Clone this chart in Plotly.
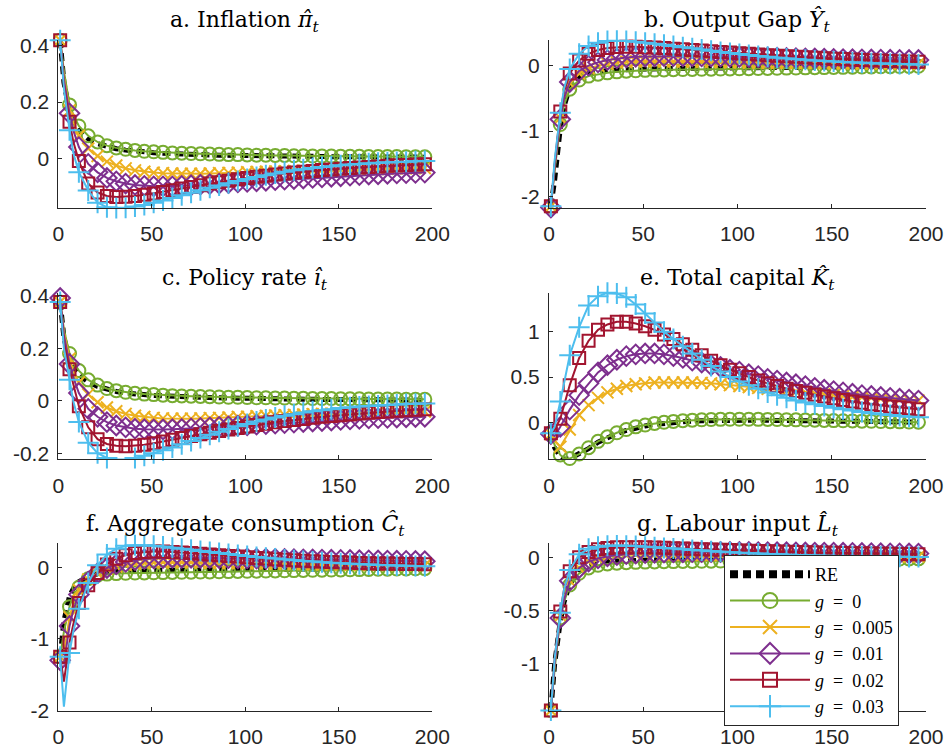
import plotly.graph_objects as go

# time index of the plotted points (markers every 5 periods)
T = [1, 3, 6, 8, 11, 16, 21, 26, 31, 36, 41, 46, 51, 56, 61, 66, 71, 76, 81, 86,
     91, 96, 101, 106, 111, 116, 121, 126, 131, 136, 141, 146, 151, 156, 161,
     166, 171, 176, 181, 186, 191, 196]

X_TICKS = [0, 50, 100, 150, 200]
X_TICKTEXT = ["0", "50", "100", "150", "200"]

# ---------- a. Inflation ----------
pi_RE = [0.42, 0.27, 0.165, 0.13,
         0.100, 0.070, 0.052, 0.042, 0.034, 0.029, 0.025, 0.022, 0.020, 0.018,
         0.016, 0.015, 0.014, 0.013, 0.012, 0.011, 0.011, 0.010, 0.010, 0.009,
         0.009, 0.008, 0.008, 0.007, 0.007, 0.007, 0.006, 0.006, 0.006, 0.005,
         0.005, 0.005, 0.005, 0.004, 0.004, 0.004, 0.004, 0.004]
pi_g0 = [0.42, 0.31, 0.19, 0.155,
         0.115, 0.080, 0.058, 0.045, 0.037, 0.032, 0.028, 0.025, 0.023, 0.021,
         0.019, 0.018, 0.017, 0.016, 0.015, 0.014, 0.013, 0.013, 0.012, 0.011,
         0.011, 0.010, 0.010, 0.009, 0.009, 0.008, 0.008, 0.008, 0.007, 0.007,
         0.007, 0.006, 0.006, 0.006, 0.006, 0.005, 0.005, 0.005]
pi_g005 = [0.42, 0.29, 0.17, 0.13,
           0.080, 0.035, 0.008, -0.012, -0.026, -0.036, -0.043, -0.048, -0.051, -0.053,
           -0.054, -0.055, -0.055, -0.055, -0.054, -0.053, -0.052, -0.051, -0.050, -0.049,
           -0.048, -0.047, -0.046, -0.045, -0.044, -0.043, -0.042, -0.041, -0.040, -0.039,
           -0.039, -0.038, -0.037, -0.037, -0.036, -0.036, -0.035, -0.035]
pi_g01 = [0.43, 0.28, 0.16, 0.10,
          0.040, -0.020, -0.050, -0.070, -0.082, -0.090, -0.095, -0.098, -0.100, -0.100,
          -0.100, -0.098, -0.096, -0.094, -0.092, -0.090, -0.088, -0.086, -0.084, -0.082,
          -0.080, -0.078, -0.076, -0.074, -0.072, -0.070, -0.068, -0.066, -0.064, -0.062,
          -0.060, -0.058, -0.057, -0.055, -0.054, -0.053, -0.052, -0.051]
pi_g02 = [0.42, 0.26, 0.13, 0.06,
          -0.010, -0.090, -0.122, -0.134, -0.138, -0.137, -0.134, -0.130, -0.125, -0.120,
          -0.114, -0.108, -0.102, -0.096, -0.090, -0.085, -0.080, -0.075, -0.070, -0.066,
          -0.062, -0.058, -0.054, -0.051, -0.048, -0.045, -0.042, -0.040, -0.037, -0.035,
          -0.033, -0.031, -0.029, -0.027, -0.025, -0.024, -0.022, -0.021]
pi_g03 = [0.42, 0.25, 0.10, 0.02,
          -0.050, -0.115, -0.158, -0.174, -0.177, -0.176, -0.172, -0.166, -0.158, -0.150,
          -0.141, -0.132, -0.123, -0.114, -0.105, -0.097, -0.089, -0.081, -0.074, -0.067,
          -0.060, -0.054, -0.048, -0.043, -0.039, -0.035, -0.031, -0.028, -0.025, -0.022,
          -0.020, -0.018, -0.016, -0.014, -0.013, -0.012, -0.011, -0.010]

# ---------- b. Output gap ----------
y_RE = [-2.15, -1.75, -0.95, -0.62,
        -0.33, -0.18, -0.12, -0.09, -0.075, -0.065, -0.058, -0.053, -0.050, -0.048,
        -0.046, -0.044, -0.042, -0.040, -0.038, -0.036, -0.034, -0.032, -0.030, -0.029,
        -0.028, -0.026, -0.025, -0.024, -0.022, -0.021, -0.020, -0.018, -0.017, -0.016,
        -0.014, -0.013, -0.012, -0.010, -0.009, -0.008, -0.007, -0.006]
y_g0 = [-2.15, -1.6, -0.9, -0.6,
        -0.36, -0.22, -0.16, -0.13, -0.11, -0.095, -0.085, -0.078, -0.072, -0.068,
        -0.065, -0.062, -0.060, -0.058, -0.056, -0.054, -0.052, -0.050, -0.048, -0.046,
        -0.044, -0.042, -0.040, -0.038, -0.036, -0.034, -0.032, -0.030, -0.028, -0.026,
        -0.024, -0.022, -0.020, -0.018, -0.016, -0.014, -0.012, -0.010]
y_g005 = [-2.15, -1.55, -0.8, -0.5,
          -0.27, -0.12, -0.04, 0.0, 0.03, 0.05, 0.06, 0.066, 0.068, 0.068,
          0.067, 0.065, 0.063, 0.061, 0.059, 0.057, 0.055, 0.053, 0.051, 0.049,
          0.047, 0.045, 0.044, 0.042, 0.041, 0.040, 0.038, 0.037, 0.036, 0.035,
          0.034, 0.033, 0.032, 0.031, 0.030, 0.030, 0.029, 0.029]
y_g01 = [-2.17, -1.55, -0.82, -0.5,
         -0.25, -0.08, 0.0, 0.05, 0.085, 0.11, 0.125, 0.135, 0.14, 0.143,
         0.145, 0.145, 0.144, 0.143, 0.141, 0.139, 0.137, 0.135, 0.133, 0.130,
         0.127, 0.124, 0.121, 0.118, 0.115, 0.112, 0.109, 0.106, 0.103, 0.100,
         0.098, 0.096, 0.094, 0.092, 0.090, 0.088, 0.087, 0.086]
y_g02 = [-2.15, -1.5, -0.7, -0.4,
         -0.12, 0.08, 0.18, 0.24, 0.27, 0.285, 0.29, 0.288, 0.283, 0.276,
         0.268, 0.26, 0.25, 0.24, 0.23, 0.22, 0.21, 0.20, 0.19, 0.18,
         0.17, 0.16, 0.152, 0.144, 0.136, 0.128, 0.121, 0.114, 0.107, 0.10,
         0.094, 0.088, 0.082, 0.077, 0.072, 0.067, 0.063, 0.059]
y_g03 = [-2.15, -1.45, -0.72, -0.35,
         -0.05, 0.18, 0.30, 0.35, 0.375, 0.38, 0.375, 0.365, 0.35, 0.335,
         0.318, 0.30, 0.282, 0.264, 0.246, 0.228, 0.21, 0.193, 0.177, 0.162,
         0.148, 0.135, 0.122, 0.11, 0.099, 0.089, 0.08, 0.071, 0.063, 0.056,
         0.049, 0.043, 0.038, 0.033, 0.029, 0.025, 0.022, 0.019]

# ---------- c. Policy rate ----------
i_RE = [0.375, 0.24, 0.15, 0.125,
        0.10, 0.072, 0.055, 0.044, 0.036, 0.030, 0.026, 0.023, 0.021, 0.019,
        0.017, 0.016, 0.015, 0.014, 0.013, 0.012, 0.011, 0.011, 0.010, 0.009,
        0.009, 0.008, 0.008, 0.007, 0.007, 0.006, 0.006, 0.006, 0.005, 0.005,
        0.005, 0.004, 0.004, 0.004, 0.004, 0.003, 0.003, 0.003]
i_g0 = [0.375, 0.27, 0.18, 0.148,
        0.115, 0.08, 0.06, 0.047, 0.039, 0.033, 0.029, 0.026, 0.024, 0.022,
        0.020, 0.019, 0.018, 0.017, 0.016, 0.015, 0.014, 0.014, 0.013, 0.012,
        0.012, 0.011, 0.011, 0.010, 0.010, 0.009, 0.009, 0.009, 0.008, 0.008,
        0.008, 0.007, 0.007, 0.007, 0.007, 0.006, 0.006, 0.006]
i_g005 = [0.375, 0.26, 0.16, 0.115,
          0.07, 0.025, -0.005, -0.025, -0.039, -0.049, -0.056, -0.061, -0.064, -0.066,
          -0.067, -0.067, -0.067, -0.066, -0.065, -0.064, -0.063, -0.061, -0.060, -0.058,
          -0.057, -0.055, -0.054, -0.053, -0.051, -0.050, -0.049, -0.048, -0.047, -0.046,
          -0.045, -0.044, -0.043, -0.042, -0.042, -0.041, -0.040, -0.040]
i_g01 = [0.39, 0.25, 0.14, 0.09,
         0.03, -0.03, -0.06, -0.08, -0.093, -0.10, -0.105, -0.107, -0.108, -0.108,
         -0.107, -0.106, -0.104, -0.102, -0.100, -0.098, -0.096, -0.094, -0.092, -0.090,
         -0.088, -0.086, -0.084, -0.082, -0.080, -0.078, -0.076, -0.074, -0.072, -0.070,
         -0.068, -0.066, -0.065, -0.064, -0.063, -0.062, -0.061, -0.060]
i_g02 = [0.375, 0.22, 0.12, 0.06,
         -0.02, -0.10, -0.145, -0.163, -0.17, -0.172, -0.17, -0.166, -0.16, -0.154,
         -0.147, -0.14, -0.133, -0.126, -0.12, -0.114, -0.108, -0.102, -0.097, -0.091,
         -0.086, -0.081, -0.076, -0.072, -0.068, -0.064, -0.060, -0.057, -0.054, -0.051,
         -0.048, -0.045, -0.042, -0.040, -0.037, -0.035, -0.033, -0.031]
i_g03 = [0.375, 0.20, 0.08, 0.0,
         -0.08, -0.158, -0.198, -0.216, -0.222, -0.222, -0.216, -0.208, -0.198, -0.187,
         -0.176, -0.164, -0.152, -0.14, -0.128, -0.117, -0.106, -0.096, -0.087, -0.078,
         -0.07, -0.063, -0.056, -0.05, -0.044, -0.039, -0.035, -0.031, -0.027, -0.024,
         -0.021, -0.019, -0.017, -0.015, -0.013, -0.012, -0.011, -0.010]

# ---------- e. Total capital ----------
k_RE = [-0.13, -0.28, -0.38, -0.41,
        -0.40, -0.35, -0.29, -0.22, -0.17, -0.125, -0.09, -0.06, -0.04, -0.022,
        -0.010, 0.000, 0.008, 0.014, 0.018, 0.021, 0.023, 0.024, 0.024, 0.024,
        0.023, 0.022, 0.021, 0.020, 0.019, 0.018, 0.016, 0.015, 0.014, 0.012,
        0.011, 0.010, 0.008, 0.007, 0.006, 0.005, 0.004, 0.003]
k_g0 = [-0.13, -0.25, -0.36, -0.40,
        -0.40, -0.35, -0.28, -0.21, -0.16, -0.115, -0.08, -0.05, -0.03, -0.012,
        0.000, 0.010, 0.018, 0.024, 0.028, 0.031, 0.033, 0.034, 0.034, 0.034,
        0.033, 0.032, 0.031, 0.029, 0.027, 0.025, 0.023, 0.021, 0.019, 0.017,
        0.015, 0.013, 0.011, 0.009, 0.007, 0.005, 0.003, 0.001]
k_g005 = [-0.13, -0.20, -0.27, -0.20,
          -0.08, 0.08, 0.19, 0.27, 0.33, 0.37, 0.40, 0.42, 0.43, 0.44,
          0.44, 0.44, 0.44, 0.44, 0.435, 0.43, 0.42, 0.41, 0.40, 0.39,
          0.38, 0.37, 0.36, 0.35, 0.34, 0.33, 0.32, 0.31, 0.30, 0.29,
          0.28, 0.275, 0.27, 0.26, 0.255, 0.25, 0.245, 0.24]
k_g01 = [-0.13, -0.15, -0.05, 0.03,
         0.14, 0.30, 0.43, 0.55, 0.63, 0.69, 0.73, 0.75, 0.76, 0.76,
         0.75, 0.73, 0.71, 0.68, 0.66, 0.63, 0.61, 0.58, 0.56, 0.53,
         0.51, 0.48, 0.46, 0.44, 0.42, 0.40, 0.38, 0.36, 0.345, 0.33,
         0.315, 0.30, 0.29, 0.28, 0.27, 0.26, 0.25, 0.24]
k_g02 = [-0.12, -0.08, 0.04, 0.20,
         0.41, 0.71, 0.90, 1.02, 1.08, 1.11, 1.11, 1.09, 1.06, 1.02,
         0.97, 0.92, 0.86, 0.80, 0.74, 0.68, 0.63, 0.58, 0.54, 0.50,
         0.46, 0.43, 0.40, 0.37, 0.345, 0.325, 0.305, 0.285, 0.265, 0.245,
         0.23, 0.215, 0.20, 0.19, 0.175, 0.165, 0.155, 0.145]
k_g03 = [-0.12, -0.05, 0.23, 0.45,
         0.74, 1.05, 1.29, 1.39, 1.43, 1.42, 1.38, 1.30, 1.20, 1.10,
         1.00, 0.92, 0.84, 0.76, 0.69, 0.62, 0.56, 0.50, 0.45, 0.41,
         0.37, 0.33, 0.30, 0.27, 0.24, 0.22, 0.20, 0.18, 0.16, 0.145,
         0.13, 0.115, 0.10, 0.09, 0.08, 0.07, 0.062, 0.055]

# ---------- f. Aggregate consumption ----------
c_RE = [-1.25, -0.75, -0.40, -0.30,
        -0.20, -0.13, -0.09, -0.07, -0.06, -0.055, -0.05, -0.048, -0.046, -0.044,
        -0.042, -0.040, -0.038, -0.036, -0.035, -0.034, -0.032, -0.031, -0.030, -0.029,
        -0.028, -0.026, -0.025, -0.024, -0.023, -0.022, -0.021, -0.020, -0.019, -0.018,
        -0.017, -0.016, -0.015, -0.014, -0.013, -0.012, -0.011, -0.010]
c_g0 = [-1.25, -0.90, -0.55, -0.40,
        -0.28, -0.16, -0.11, -0.095, -0.088, -0.083, -0.080, -0.078, -0.076, -0.074,
        -0.072, -0.070, -0.068, -0.066, -0.064, -0.062, -0.060, -0.058, -0.056, -0.054,
        -0.052, -0.050, -0.048, -0.046, -0.044, -0.042, -0.040, -0.038, -0.036, -0.034,
        -0.032, -0.030, -0.028, -0.026, -0.024, -0.022, -0.020, -0.018]
c_g005 = [-1.25, -1.20, -0.70, -0.50,
          -0.32, -0.17, -0.08, -0.02, 0.01, 0.035, 0.05, 0.06, 0.066, 0.069,
          0.07, 0.07, 0.069, 0.067, 0.065, 0.063, 0.061, 0.059, 0.057, 0.055,
          0.053, 0.051, 0.049, 0.047, 0.045, 0.043, 0.041, 0.040, 0.038, 0.037,
          0.036, 0.035, 0.034, 0.033, 0.032, 0.031, 0.030, 0.029]
c_g01 = [-1.30, -1.35, -0.82, -0.60,
         -0.38, -0.20, -0.08, -0.01, 0.04, 0.075, 0.10, 0.115, 0.125, 0.13,
         0.133, 0.134, 0.134, 0.133, 0.132, 0.130, 0.128, 0.126, 0.124, 0.122,
         0.120, 0.118, 0.116, 0.114, 0.112, 0.110, 0.108, 0.106, 0.104, 0.102,
         0.100, 0.098, 0.096, 0.094, 0.092, 0.090, 0.088, 0.086]
c_g02 = [-1.25, -1.60, -1.05, -0.80,
         -0.50, -0.25, -0.08, 0.04, 0.12, 0.17, 0.20, 0.215, 0.22, 0.22,
         0.215, 0.208, 0.20, 0.19, 0.18, 0.17, 0.16, 0.15, 0.14, 0.131,
         0.122, 0.114, 0.106, 0.099, 0.092, 0.086, 0.080, 0.075, 0.070, 0.066,
         0.062, 0.058, 0.055, 0.052, 0.049, 0.047, 0.045, 0.043]
c_g03 = [-1.25, -1.95, -1.20, -0.90,
         -0.58, -0.22, 0.03, 0.18, 0.26, 0.30, 0.31, 0.31, 0.30, 0.29,
         0.275, 0.26, 0.245, 0.23, 0.215, 0.20, 0.186, 0.172, 0.159, 0.146,
         0.134, 0.122, 0.111, 0.10, 0.09, 0.081, 0.072, 0.064, 0.057, 0.05,
         0.044, 0.038, 0.033, 0.029, 0.025, 0.021, 0.018, 0.015]

# ---------- g. Labour input ----------
l_RE = [-1.44, -1.00, -0.60, -0.42,
        -0.25, -0.13, -0.08, -0.055, -0.042, -0.035, -0.030, -0.027, -0.025, -0.023,
        -0.022, -0.021, -0.020, -0.019, -0.018, -0.017, -0.016, -0.015, -0.014, -0.014,
        -0.013, -0.012, -0.012, -0.011, -0.010, -0.010, -0.009, -0.009, -0.008, -0.008,
        -0.007, -0.007, -0.006, -0.006, -0.005, -0.005, -0.005, -0.004]
l_g0 = [-1.44, -1.05, -0.57, -0.42,
        -0.26, -0.15, -0.10, -0.075, -0.062, -0.055, -0.050, -0.047, -0.045, -0.043,
        -0.041, -0.040, -0.039, -0.038, -0.037, -0.036, -0.035, -0.034, -0.033, -0.032,
        -0.031, -0.030, -0.029, -0.028, -0.027, -0.026, -0.025, -0.024, -0.023, -0.022,
        -0.021, -0.020, -0.019, -0.018, -0.017, -0.016, -0.015, -0.014]
l_g005 = [-1.44, -1.00, -0.55, -0.38,
          -0.22, -0.10, -0.04, -0.01, 0.008, 0.018, 0.023, 0.026, 0.027, 0.027,
          0.026, 0.025, 0.024, 0.023, 0.022, 0.021, 0.020, 0.019, 0.018, 0.017,
          0.016, 0.015, 0.014, 0.013, 0.013, 0.012, 0.011, 0.011, 0.010, 0.010,
          0.009, 0.009, 0.008, 0.008, 0.008, 0.007, 0.007, 0.007]
l_g01 = [-1.46, -1.00, -0.57, -0.40,
         -0.22, -0.10, -0.04, -0.01, 0.01, 0.022, 0.03, 0.036, 0.04, 0.043,
         0.045, 0.047, 0.048, 0.049, 0.05, 0.05, 0.05, 0.05, 0.05, 0.05,
         0.049, 0.049, 0.048, 0.048, 0.047, 0.046, 0.045, 0.045, 0.044, 0.043,
         0.042, 0.041, 0.040, 0.039, 0.038, 0.037, 0.036, 0.035]
l_g02 = [-1.44, -0.95, -0.51, -0.30,
         -0.13, 0.00, 0.05, 0.075, 0.088, 0.094, 0.096, 0.096, 0.094, 0.092,
         0.089, 0.086, 0.083, 0.080, 0.077, 0.074, 0.071, 0.068, 0.065, 0.062,
         0.059, 0.057, 0.054, 0.052, 0.050, 0.048, 0.046, 0.044, 0.042, 0.040,
         0.038, 0.037, 0.035, 0.034, 0.033, 0.032, 0.031, 0.030]
l_g03 = [-1.44, -0.95, -0.52, -0.30,
         -0.12, 0.03, 0.08, 0.10, 0.11, 0.112, 0.11, 0.106, 0.10, 0.094,
         0.088, 0.082, 0.076, 0.070, 0.064, 0.058, 0.053, 0.048, 0.043, 0.039,
         0.035, 0.031, 0.028, 0.025, 0.022, 0.019, 0.017, 0.015, 0.013, 0.011,
         0.010, 0.009, 0.008, 0.007, 0.006, 0.005, 0.004, 0.003]

EQ = "\u2002=\u2002"
SERIES_NAMES = ["RE", f"<i>g</i>{EQ}0", f"<i>g</i>{EQ}0.005", f"<i>g</i>{EQ}0.01",
                f"<i>g</i>{EQ}0.02", f"<i>g</i>{EQ}0.03"]

# style (not data)
COLORS = ["#000000", "#77AC30", "#EDB120", "#7E2F8E", "#A2142F", "#4DBEEE"]
SYMBOLS = [None, "circle-open", "x-thin-open", "diamond-open", "square-open", "cross-thin-open"]
MSIZES = [0, 13, 12, 15, 12, 15]

PANELS = [
    dict(title="a. Inflation <i>π\u0302</i><sub><i>t</i></sub>",
         data=[pi_RE, pi_g0, pi_g005, pi_g01, pi_g02, pi_g03],
         yrange=[-0.177, 0.421], yt=[0, 0.2, 0.4], ytt=["0", "0.2", "0.4"]),
    dict(title="b. Output Gap <i>Ŷ</i><sub><i>t</i></sub>",
         data=[y_RE, y_g0, y_g005, y_g01, y_g02, y_g03],
         yrange=[-2.177, 0.392], yt=[-2, -1, 0], ytt=["-2", "-1", "0"]),
    dict(title="c. Policy rate <i>î</i><sub><i>t</i></sub>",
         data=[i_RE, i_g0, i_g005, i_g01, i_g02, i_g03],
         yrange=[-0.221, 0.41], yt=[-0.2, 0, 0.2, 0.4], ytt=["-0.2", "0", "0.2", "0.4"]),
    dict(title="e. Total capital <i>K\u0302</i><sub><i>t</i></sub>",
         data=[k_RE, k_g0, k_g005, k_g01, k_g02, k_g03],
         yrange=[-0.408, 1.43], yt=[0, 0.5, 1], ytt=["0", "0.5", "1"]),
    dict(title="f. Aggregate consumption <i>Ĉ</i><sub><i>t</i></sub>",
         data=[c_RE, c_g0, c_g005, c_g01, c_g02, c_g03],
         yrange=[-2.01, 0.336], yt=[-2, -1, 0], ytt=["-2", "-1", "0"]),
    dict(title="g. Labour input <i>L\u0302</i><sub><i>t</i></sub>",
         data=[l_RE, l_g0, l_g005, l_g01, l_g02, l_g03],
         yrange=[-1.445, 0.132], yt=[-1, -0.5, 0], ytt=["-1", "-0.5", "0"]),
]

W, H = 949, 749
XDOM = [[58.3 / W, 432.3 / W], [549 / W, 926 / W]]
ROWS_PX = [(40, 208), (292.7, 459.3), (543.3, 711)]
TITLE_PX = [21, 279, 525]
YDOM = [[1 - b / H, 1 - t / H] for (t, b) in ROWS_PX]

AXCOL = "#262626"
TICKFONT = dict(family="Liberation Sans, Arial, sans-serif", size=21, color=AXCOL)
SERIF = "Liberation Serif, Times New Roman, serif"
TITLEFONT = "DejaVu Serif, serif"

fig = go.Figure()
layout = dict(width=W, height=H, margin=dict(l=0, r=0, t=0, b=0, autoexpand=False),
              paper_bgcolor="white", plot_bgcolor="white", showlegend=True)
annotations = []

for k, p in enumerate(PANELS):
    row, col = divmod(k, 2)
    n = k + 1
    xa = "x" if n == 1 else f"x{n}"
    ya = "y" if n == 1 else f"y{n}"
    for s, vals in enumerate(p["data"]):
        if s == 0:
            fig.add_trace(go.Scatter(x=T, y=vals, mode="lines", xaxis=xa, yaxis=ya,
                                     line=dict(color=COLORS[0], width=5, dash="8px,5px"),
                                     showlegend=False, hoverinfo="skip"))
        else:
            fig.add_trace(go.Scatter(x=T, y=vals, mode="lines", xaxis=xa, yaxis=ya,
                                     line=dict(color=COLORS[s], width=2),
                                     showlegend=False, hoverinfo="skip"))
            mx = [t for t in T if (t - 1) % 5 == 0]
            my = [v for t, v in zip(T, vals) if (t - 1) % 5 == 0]
            fig.add_trace(go.Scatter(x=mx, y=my, mode="markers", xaxis=xa, yaxis=ya,
                                     cliponaxis=False,
                                     marker=dict(symbol=SYMBOLS[s], size=MSIZES[s],
                                                 color=COLORS[s],
                                                 line=dict(color=COLORS[s], width=2)),
                                     showlegend=False, hoverinfo="skip"))
    common = dict(showline=True, linecolor=AXCOL, linewidth=1, ticks="inside",
                  ticklen=4, tickwidth=1, tickcolor=AXCOL, showgrid=False,
                  zeroline=False, tickfont=TICKFONT, automargin=False)
    layout["xaxis" if n == 1 else f"xaxis{n}"] = dict(
        domain=XDOM[col], anchor=ya, range=[0, 200], tickvals=X_TICKS,
        ticktext=X_TICKTEXT, ticklabelstandoff=7, **common)
    layout["yaxis" if n == 1 else f"yaxis{n}"] = dict(
        domain=YDOM[row], anchor=xa, range=p["yrange"], tickvals=p["yt"],
        ticktext=p["ytt"], ticklabelstandoff=4, **common)
    annotations.append(dict(text=p["title"], xref="paper", yref="paper",
                            x=sum(XDOM[col]) / 2, y=1 - TITLE_PX[row] / H,
                            xanchor="center", yanchor="middle", showarrow=False,
                            font=dict(family=TITLEFONT, size=22, color="black")))

# legend entries (drawn in the last panel's box)
for s in range(6):
    if s == 0:
        fig.add_trace(go.Scatter(x=[None], y=[None], mode="lines", name=SERIES_NAMES[0],
                                 line=dict(color="black", width=8, dash="8px,5px")))
    else:
        fig.add_trace(go.Scatter(x=[None], y=[None], mode="lines+markers",
                                 name=SERIES_NAMES[s],
                                 line=dict(color=COLORS[s], width=2),
                                 marker=dict(symbol=SYMBOLS[s], size=MSIZES[s] + 2,
                                             color=COLORS[s],
                                             line=dict(color=COLORS[s], width=2))))

layout["legend"] = dict(x=724 / W, y=1 - 555 / H, xanchor="left", yanchor="top",
                        bgcolor="white", bordercolor=AXCOL, borderwidth=1,
                        font=dict(family=SERIF, size=18, color="black"),
                        itemwidth=80, traceorder="normal")
layout["annotations"] = annotations
fig.update_layout(**layout)
fig.write_html("out.html", config={"displayModeBar": False, "staticPlot": True},
               post_script="document.body.style.margin='0';document.body.style.overflow='hidden';")
